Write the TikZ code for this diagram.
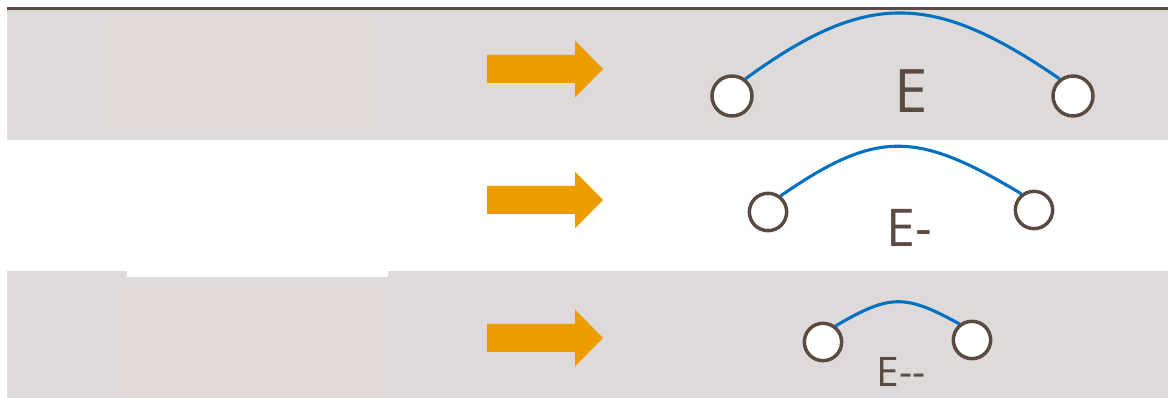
\documentclass[tikz,border=0pt]{standalone}
\usepackage{fontspec}
\setmainfont{Open Sans}
\usepackage{tikz}
\usetikzlibrary{arrows.meta,positioning,calc}
\definecolor{bandgray}{RGB}{222,218,217}
\definecolor{innerpink}{RGB}{226,216,214}
\definecolor{arrorange}{RGB}{237,156,0}
\definecolor{arcblue}{RGB}{0,112,192}
\definecolor{darkbrown}{RGB}{89,74,66}

\begin{document}
\begin{tikzpicture}[x=0.75pt, y=-0.75pt,
    atom/.style={circle, draw=darkbrown, line width=2.6pt, fill=white, minimum size=#1, inner sep=0pt},
    bond/.style={draw=arcblue, line width=2.3pt},
    lbl/.style={text=darkbrown, anchor=base, inner sep=0pt},
]
\useasboundingbox (0,0) rectangle (1168,398);
\fill[bandgray] (7,10) rectangle (1168,140);
\fill[innerpink] (110,16) rectangle (370,128);
\fill[bandgray] (7,271) rectangle (1168,398);
\fill[white] (127,271) rectangle (388,277);
\fill[innerpink] (122,290) rectangle (382,398);
\draw[darkbrown, line width=2.2pt] (7,8.8) -- (1168,8.8);

\foreach \y in {69,200,338}
  \fill[arrorange] (487,\y-14) -- (575,\y-14) -- (575,\y-28.5) -- (603,\y)
    -- (575,\y+28.5) -- (575,\y+14) -- (487,\y+14) -- cycle;

\node[atom=30pt] (l1) at (732,96) {};
\node[atom=30pt] (r1) at (1073,96) {};
\draw[bond] (l1.52) .. controls (866,-9) and (932,-9) .. (r1.128);
\node[lbl, font=\fontsize{45}{54}\selectfont] (e1) at (911,113) {E};

\node[atom=28pt] (l2) at (768,212) {};
\node[atom=28pt] (r2) at (1034,210) {};
\draw[bond] (l2.52) .. controls (876,130) and (916,130) .. (r2.128);
\node[lbl, font=\fontsize{39}{47}\selectfont] (e2) at (909,247) {E-};

\node[atom=28pt] (l3) at (823,342) {};
\node[atom=28pt] (r3) at (972,340) {};
\draw[bond] (l3.52) .. controls (890,294) and (905,294) .. (r3.128);
\node[lbl, font=\fontsize{30.5}{37}\selectfont] (e3) at (901,387) {E-{}-};
\end{tikzpicture}
\end{document}
